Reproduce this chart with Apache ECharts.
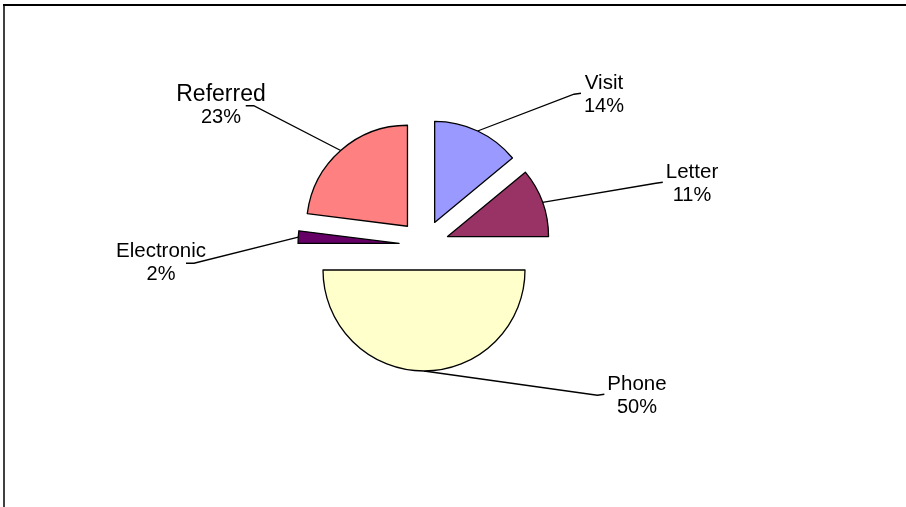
<!DOCTYPE html>
<html>
<head>
<meta charset="utf-8">
<script src="https://cdn.jsdelivr.net/npm/echarts@6/dist/echarts.min.js"></script>
<style>
  html, body { margin: 0; padding: 0; background: #ffffff; }
  #chart { width: 906px; height: 507px; }
</style>
</head>
<body>
<div id="chart"></div>
<script>
// Contact channels and their share of the total
const categories = ['Visit', 'Letter', 'Phone', 'Electronic', 'Referred'];
const shares = [14, 11, 50, 2, 23];
const sliceColors = ['#9999FF', '#993366', '#FFFFCC', '#660066', '#FF8080'];

// Label placement: centre of each two-line label and the side the leader joins
const labelSpots = [
  { x: 604, y: 95, side: 'right' },
  { x: 692, y: 184, side: 'right' },
  { x: 637, y: 396, side: 'right' },
  { x: 161, y: 263, side: 'left' },
  { x: 221, y: 106, side: 'left' }
];

const PIE_CENTER = [424, 245];
const PIE_RADIUS = 101;
const EXPLODE = 25;
const FONT = 'Liberation Sans, Arial, sans-serif';

const total = shares.reduce((a, b) => a + b, 0);
// mid-angle of each slice, clockwise from 12 o'clock
const midAngles = [];
let acc = 0;
shares.forEach(v => {
  const a0 = acc / total * Math.PI * 2;
  acc += v;
  const a1 = acc / total * Math.PI * 2;
  midAngles.push((a0 + a1) / 2);
});

function leaderLayout(params) {
  const spot = labelSpots[params.dataIndex];
  if (!spot || !params.labelLinePoints) return {};
  const w = params.labelRect.width;
  const h = params.labelRect.height;
  const left = spot.x - w / 2;
  const right = spot.x + w / 2;
  const top = spot.y - h / 2;
  const start = params.labelLinePoints[0];
  let elbow, end;
  if (spot.side === 'right') {
    elbow = [left - 10, top + 21];
    end = [left - 3, top + 20];
  } else {
    elbow = [right - 12, top + 22];
    end = [right - 20, top + 22];
  }
  return {
    x: spot.x,
    y: spot.y,
    align: 'center',
    verticalAlign: 'middle',
    labelLinePoints: [start, elbow, end]
  };
}

// One pie per slice: the slice is pushed out along its mid-angle,
// the other sectors of that pie stay invisible.
const series = categories.map((cat, k) => {
  const nameSize = cat === 'Referred' ? 23 : 20.5;
  return {
    type: 'pie',
    center: [
      PIE_CENTER[0] + EXPLODE * Math.sin(midAngles[k]),
      PIE_CENTER[1] - EXPLODE * Math.cos(midAngles[k])
    ],
    radius: PIE_RADIUS,
    startAngle: 90,
    clockwise: true,
    avoidLabelOverlap: false,
    silent: true,
    labelLayout: leaderLayout,
    data: categories.map((name, i) => {
      const own = i === k;
      return {
        name: name,
        value: shares[i],
        itemStyle: own
          ? { color: sliceColors[i], borderColor: '#000000', borderWidth: 1.3 }
          : { color: 'rgba(0,0,0,0)', borderWidth: 0 },
        label: own
          ? {
              show: true,
              position: 'outside',
              formatter: '{n|{b}}\n{v|{d}%}',
              rich: {
                n: { fontFamily: FONT, fontSize: nameSize, lineHeight: 23, color: '#000', align: 'center' },
                v: { fontFamily: FONT, fontSize: 20, lineHeight: 23, color: '#000', align: 'center' }
              }
            }
          : { show: false },
        labelLine: own
          ? { show: true, length: 20, length2: 20, lineStyle: { color: '#000', width: 1.3 } }
          : { show: false }
      };
    })
  };
});

const chart = echarts.init(document.getElementById('chart'), null, { renderer: 'canvas' });

chart.setOption({
  animation: false,
  backgroundColor: '#ffffff',
  graphic: [
    { type: 'line', shape: { x1: 3, y1: 5, x2: 906, y2: 5 }, style: { stroke: '#000', lineWidth: 2 } },
    { type: 'line', shape: { x1: 4, y1: 4, x2: 4, y2: 507 }, style: { stroke: '#000', lineWidth: 1.5 } }
  ],
  series: series
});
</script>
</body>
</html>
